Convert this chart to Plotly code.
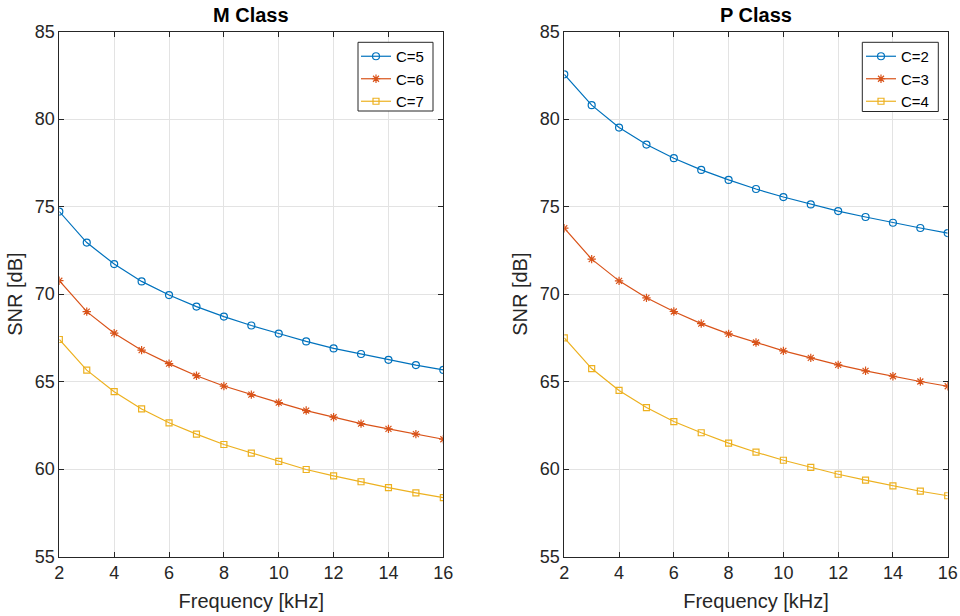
import plotly.graph_objects as go

# Frequency points (kHz)
freq = [2, 3, 4, 5, 6, 7, 8, 9, 10, 11, 12, 13, 14, 15, 16]

# M Class SNR [dB]
m_c5 = [74.72, 72.95, 71.72, 70.73, 69.95, 69.29, 68.72, 68.21, 67.75, 67.30, 66.90, 66.58, 66.25, 65.95, 65.67]
m_c6 = [70.77, 69.00, 67.77, 66.80, 66.03, 65.34, 64.75, 64.26, 63.80, 63.35, 62.97, 62.60, 62.30, 62.00, 61.71]
m_c7 = [67.41, 65.66, 64.43, 63.44, 62.65, 62.00, 61.41, 60.92, 60.45, 59.98, 59.62, 59.28, 58.95, 58.65, 58.37]

# P Class SNR [dB]
p_c2 = [82.56, 80.80, 79.52, 78.55, 77.77, 77.10, 76.53, 76.01, 75.55, 75.13, 74.75, 74.41, 74.08, 73.78, 73.49]
p_c3 = [73.77, 72.00, 70.76, 69.79, 69.01, 68.32, 67.73, 67.24, 66.76, 66.36, 65.96, 65.62, 65.31, 65.01, 64.74]
p_c4 = [67.50, 65.75, 64.50, 63.52, 62.72, 62.08, 61.49, 60.97, 60.51, 60.10, 59.71, 59.37, 59.05, 58.74, 58.48]

m_labels = ["C=5", "C=6", "C=7"]
p_labels = ["C=2", "C=3", "C=4"]

x_ticks = [2, 4, 6, 8, 10, 12, 14, 16]
y_ticks = [55, 60, 65, 70, 75, 80, 85]

colors = ["#0072BD", "#D95319", "#EDB120"]
symbols = ["circle-open", "asterisk-open", "square-open"]
sizes = [7, 7, 6]

FONT = "Liberation Sans, Arial, sans-serif"
TXT = "#262626"
W, H = 960, 616

fig = go.Figure()

for i, (ys, name) in enumerate(zip([m_c5, m_c6, m_c7], m_labels)):
    fig.add_trace(go.Scatter(
        x=freq, y=ys, name=name, mode="lines+markers",
        line=dict(color=colors[i], width=1.2),
        marker=dict(symbol=symbols[i], size=sizes[i], color=colors[i],
                    line=dict(color=colors[i], width=1.2)),
        xaxis="x", yaxis="y", legend="legend",
    ))

for i, (ys, name) in enumerate(zip([p_c2, p_c3, p_c4], p_labels)):
    fig.add_trace(go.Scatter(
        x=freq, y=ys, name=name, mode="lines+markers",
        line=dict(color=colors[i], width=1.2),
        marker=dict(symbol=symbols[i], size=sizes[i], color=colors[i],
                    line=dict(color=colors[i], width=1.2)),
        xaxis="x2", yaxis="y2", legend="legend2",
    ))

axis_common = dict(
    showline=True, linecolor=TXT, linewidth=1, mirror="ticks",
    ticks="inside", ticklen=5, tickcolor=TXT, tickwidth=1,
    showgrid=True, gridcolor="#e3e3e3", gridwidth=1,
    zeroline=False, automargin=False,
    tickfont=dict(family=FONT, size=18, color=TXT),
)

xcommon = dict(axis_common, range=[2, 16], tickvals=x_ticks,
               title=dict(text="Frequency [kHz]", font=dict(family=FONT, size=20, color=TXT), standoff=11))
ycommon = dict(axis_common, range=[55, 85], tickvals=y_ticks,
               title=dict(text="SNR [dB]", font=dict(family=FONT, size=20, color=TXT), standoff=6))

legend_common = dict(
    bgcolor="rgba(0,0,0,0)", borderwidth=0,
    font=dict(family=FONT, size=15, color="black"),
    xanchor="left", yanchor="top", tracegroupgap=0,
    itemwidth=30,
)


def px_box(x0, y0, x1, y1):
    # Rectangle given in pixel coordinates, converted to paper fractions
    return dict(type="rect", xref="paper", yref="paper",
                x0=x0 / W, x1=x1 / W, y0=1 - y1 / H, y1=1 - y0 / H,
                line=dict(color=TXT, width=1), fillcolor="white", layer="above")


fig.update_layout(
    width=W, height=H,
    margin=dict(l=0, r=0, t=0, b=0),
    paper_bgcolor="white", plot_bgcolor="white",
    font=dict(family=FONT, color=TXT),
    xaxis=dict(xcommon, domain=[0.0618, 0.4618], anchor="y"),
    yaxis=dict(ycommon, domain=[0.0963, 0.9486], anchor="x"),
    xaxis2=dict(xcommon, domain=[0.5878, 0.9872], anchor="y2"),
    yaxis2=dict(ycommon, domain=[0.0963, 0.9486], anchor="x2"),
    legend=dict(legend_common, x=356 / W, y=1 - 40 / H),
    legend2=dict(legend_common, x=861 / W, y=1 - 40 / H),
    shapes=[
        px_box(358, 42.3, 433, 111),
        px_box(862.3, 42.3, 938.3, 111.5),
    ],
    annotations=[
        dict(text="<b>M Class</b>", x=0.2618, y=1 - 15 / H, xref="paper", yref="paper",
             xanchor="center", yanchor="middle", showarrow=False,
             font=dict(family=FONT, size=20, color="black")),
        dict(text="<b>P Class</b>", x=0.7875, y=1 - 15 / H, xref="paper", yref="paper",
             xanchor="center", yanchor="middle", showarrow=False,
             font=dict(family=FONT, size=20, color="black")),
    ],
)

fig.write_html("out.html")
